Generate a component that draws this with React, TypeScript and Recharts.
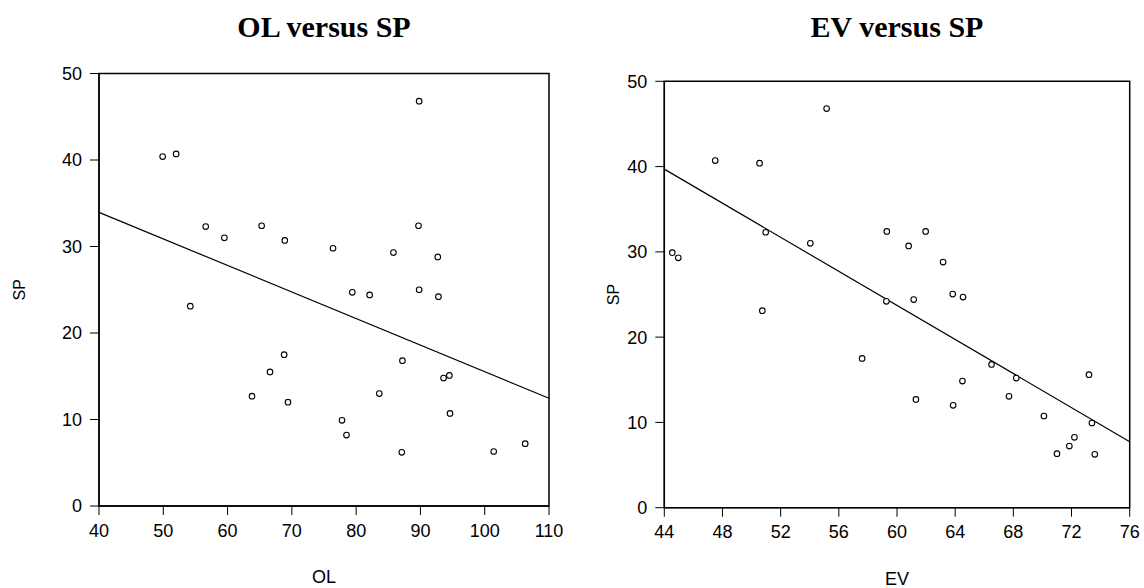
import React from 'react';
import { ScatterChart, Scatter, XAxis, YAxis, ReferenceArea, ReferenceLine } from 'recharts';

// ---- data ----
const olValues = [49.9, 52.0, 56.6, 59.5, 65.3, 68.9, 76.4, 54.2, 89.8, 89.7, 85.8, 92.7, 79.4, 82.1, 89.8, 92.8, 68.8, 66.6, 63.8, 69.4, 87.2, 93.6, 94.5, 83.6, 94.6, 77.8, 78.5, 87.1, 101.4, 106.3];
const spForOl = [40.4, 40.7, 32.3, 31.0, 32.4, 30.7, 29.8, 23.1, 46.8, 32.4, 29.3, 28.8, 24.7, 24.4, 25.0, 24.2, 17.5, 15.5, 12.7, 12.0, 16.8, 14.8, 15.1, 13.0, 10.7, 9.9, 8.2, 6.2, 6.3, 7.2];
const evValues = [55.16, 47.5, 50.55, 50.97, 54.04, 44.55, 44.96, 50.74, 59.3, 59.27, 61.97, 60.8, 63.17, 63.83, 64.54, 61.15, 57.6, 66.5, 68.2, 64.5, 73.2, 61.3, 63.86, 67.7, 70.1, 73.4, 72.2, 71.85, 71.0, 73.6];
const spForEv = [46.8, 40.7, 40.4, 32.3, 31.0, 29.9, 29.3, 23.1, 32.4, 24.2, 32.4, 30.7, 28.8, 25.05, 24.7, 24.4, 17.5, 16.8, 15.2, 14.85, 15.6, 12.7, 12.0, 13.06, 10.75, 9.93, 8.25, 7.23, 6.33, 6.26];

const olFitX = [40, 110];
const olFitY = [33.95, 12.45];
const evFitX = [44, 76];
const evFitY = [39.7, 7.74];

const olTicks = [40, 50, 60, 70, 80, 90, 100, 110];
const evTicks = [44, 48, 52, 56, 60, 64, 68, 72, 76];
const spTicks = [0, 10, 20, 30, 40, 50];

const titles = ['OL versus SP', 'EV versus SP'];
const xLabels = ['OL', 'EV'];
const yLabel = 'SP';

const SANS = '"Liberation Sans", Arial, sans-serif';
const SERIF = '"Liberation Serif", "Times New Roman", serif';

const Dot = (props: any) => {
  const { cx, cy } = props;
  if (cx == null || cy == null) return null;
  return <circle cx={cx} cy={cy} r={2.8} fill="#fff" stroke="#000" strokeWidth={1.1} />;
};

type PanelProps = {
  left: number;
  width: number;
  plotLeft: number;
  plotTop: number;
  plotRight: number;
  plotBottom: number;
  xs: number[];
  ys: number[];
  fitX: number[];
  fitY: number[];
  xTicks: number[];
  title: string;
  xLabel: string;
  yLabelX: number;
};

const Panel = (p: PanelProps) => {
  const height = 588;
  const xAxisHeight = 40;
  const yAxisWidth = p.plotLeft - p.left;
  const data = p.xs.map((x, i) => ({ x, y: p.ys[i] }));
  const xDomain = [p.xTicks[0], p.xTicks[p.xTicks.length - 1]];
  const yDomain = [spTicks[0], spTicks[spTicks.length - 1]];
  const margin = {
    top: p.plotTop,
    left: 0,
    right: p.left + p.width - p.plotRight,
    bottom: height - p.plotBottom - xAxisHeight,
  };
  const tickStyle = { fontFamily: SANS, fontSize: 18, fill: '#000' };
  const plotCenter = (p.plotLeft + p.plotRight) / 2 - p.left;
  return (
    <div style={{ position: 'absolute', left: p.left, top: 0, width: p.width, height }}>
      <ScatterChart width={p.width} height={height} margin={margin}>
        <XAxis
          type="number"
          dataKey="x"
          domain={xDomain}
          ticks={p.xTicks}
          allowDataOverflow
          height={xAxisHeight}
          tickSize={9}
          tickMargin={9}
          stroke="#000"
          strokeWidth={1.3}
          tick={tickStyle}
          tickLine={{ stroke: '#000', strokeWidth: 1 }}
          label={{
            content: (lp: any) => {
              const vb = lp.viewBox || {};
              return (
                <text x={vb.x + vb.width / 2} y={vb.y + 77} textAnchor="middle" fontFamily={SANS} fontSize={18} fill="#000">
                  {p.xLabel}
                </text>
              );
            },
          }}
        />
        <YAxis
          type="number"
          dataKey="y"
          domain={yDomain}
          ticks={spTicks}
          allowDataOverflow
          width={yAxisWidth}
          tickSize={9}
          tickMargin={8}
          stroke="#000"
          strokeWidth={1.3}
          tick={tickStyle}
          tickLine={{ stroke: '#000', strokeWidth: 1 }}
          label={{
            content: (lp: any) => {
              const vb = lp.viewBox || {};
              const cx = vb.x + p.yLabelX;
              const cy = vb.y + vb.height / 2;
              return (
                <text x={cx} y={cy} textAnchor="middle" dominantBaseline="central" transform={`rotate(-90 ${cx} ${cy})`} fontFamily={SANS} fontSize={16} fill="#000">
                  {yLabel}
                </text>
              );
            },
          }}
        />
        <ReferenceArea x1={xDomain[0]} x2={xDomain[1]} y1={yDomain[0]} y2={yDomain[1]} fill="none" fillOpacity={0} stroke="#000" strokeWidth={1.5} ifOverflow="visible" />
        <ReferenceLine
          segment={[{ x: p.fitX[0], y: p.fitY[0] }, { x: p.fitX[1], y: p.fitY[1] }]}
          stroke="#000"
          strokeWidth={1.2}
          ifOverflow="visible"
        />
        <Scatter data={data} shape={Dot} isAnimationActive={false} />
      </ScatterChart>
      <svg style={{ position: 'absolute', left: 0, top: 0 }} width={p.width} height={60}>
        <text x={plotCenter} y={37} textAnchor="middle" fontFamily={SERIF} fontWeight="bold" fontSize={30} fill="#000">
          {p.title}
        </text>
      </svg>
    </div>
  );
};

export default function App() {
  return (
    <div style={{ position: 'fixed', left: 0, top: 0, width: 1144, height: 588, background: '#fff' }}>
      <Panel
        left={0}
        width={572}
        plotLeft={99}
        plotTop={73.5}
        plotRight={549}
        plotBottom={506}
        xs={olValues}
        ys={spForOl}
        fitX={olFitX}
        fitY={olFitY}
        xTicks={olTicks}
        title={titles[0]}
        xLabel={xLabels[0]}
        yLabelX={19}
      />
      <Panel
        left={572}
        width={572}
        plotLeft={664.3}
        plotTop={81.3}
        plotRight={1129.7}
        plotBottom={507.7}
        xs={evValues}
        ys={spForEv}
        fitX={evFitX}
        fitY={evFitY}
        xTicks={evTicks}
        title={titles[1]}
        xLabel={xLabels[1]}
        yLabelX={41}
      />
    </div>
  );
}
